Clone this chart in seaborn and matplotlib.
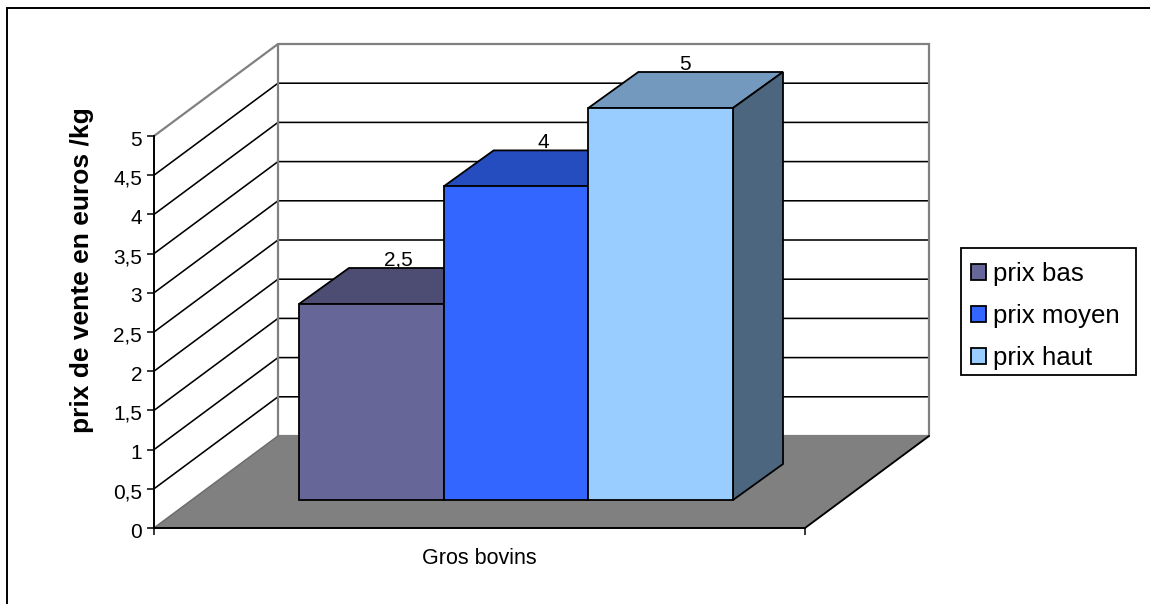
import matplotlib
matplotlib.use("Agg")
import matplotlib.pyplot as plt
from matplotlib.lines import Line2D
from matplotlib.patches import Polygon, Rectangle
from matplotlib.colors import to_rgb
from matplotlib.transforms import ScaledTranslation
import pandas as pd
import seaborn as sns

categories = ["Gros bovins"]
series_names = ["prix bas", "prix moyen", "prix haut"]
series_values = [2.5, 4, 5]
series_colors = ["#666699", "#3366FF", "#99CCFF"]
y_ticks = [0, 0.5, 1, 1.5, 2, 2.5, 3, 3.5, 4, 4.5, 5]
y_title = "prix de vente en euros /kg"

W, H = 1150, 604
sns.set_style("white")
plt.rcParams["font.family"] = ["Liberation Sans", "DejaVu Sans"]
fig = plt.figure(figsize=(W / 100, H / 100), dpi=100, facecolor="white")


def box(left, right, top, bottom):
    return [left / W, 1 - bottom / H, (right - left) / W, (bottom - top) / H]


# Front plane of the fake 3D box carries the axis scales
ax = fig.add_axes(box(154, 805, 136, 528))
ax.set_xlim(-0.5, 0.5)
ax.set_ylim(0, 5)
ax.patch.set_visible(False)

wall_dx = 124 / 651
wall_dy = 92 / 78.4
gray = "#808080"
lw = 1.15

# Floor
ax.add_patch(Polygon([(-0.5, 0), (0.5, 0), (0.5 + wall_dx, wall_dy), (-0.5 + wall_dx, wall_dy)],
                     closed=True, facecolor=gray, edgecolor="none", clip_on=False, zorder=1))
ax.plot([-0.5, -0.5 + wall_dx], [0, wall_dy], color="#6e6e6e", lw=lw, clip_on=False, zorder=1.2)
ax.plot([0.5, 0.5 + wall_dx], [0, wall_dy], color="black", lw=lw + 0.2, clip_on=False, zorder=1.2)

# Grid lines running along the side wall and the back wall
for v in y_ticks[1:-1]:
    ax.plot([-0.5, -0.5 + wall_dx, 0.5 + wall_dx], [v, v + wall_dy, v + wall_dy],
            color="black", lw=lw, clip_on=False, zorder=0.8, solid_joinstyle="miter")

# Outline of the walls
ax.plot([-0.5, -0.5 + wall_dx, 0.5 + wall_dx, 0.5 + wall_dx],
        [5, 5 + wall_dy, 5 + wall_dy, wall_dy],
        color=gray, lw=lw + 0.45, clip_on=False, zorder=0.9, solid_joinstyle="miter")
ax.plot([-0.5 + wall_dx, -0.5 + wall_dx, 0.5 + wall_dx], [5 + wall_dy, wall_dy, wall_dy],
        color=gray, lw=lw + 0.45, clip_on=False, zorder=0.9, solid_joinstyle="miter")

for s in ["top", "right"]:
    ax.spines[s].set_visible(False)
for s in ["left", "bottom"]:
    ax.spines[s].set_visible(True)
    ax.spines[s].set_color("black")
    ax.spines[s].set_linewidth(1.4)
    ax.spines[s].set_zorder(3)

ax.set_yticks(y_ticks)
ax.set_yticklabels([f"{v:g}".replace(".", ",") for v in y_ticks])
ax.tick_params(axis="y", left=True, direction="out", length=5, width=1.1, pad=3.5,
               labelsize=15, color="black", labelcolor="black")
# Value labels sit slightly below their tick marks
nudge = ScaledTranslation(0, -2 / 100, fig.dpi_scale_trans)
for label in ax.get_yticklabels():
    label.set_transform(label.get_transform() + nudge)
ax.set_xticks([0])
ax.set_xticklabels(categories)
ax.set_xticks([-0.5, 0.5], minor=True)
ax.tick_params(axis="x", which="major", bottom=False, pad=11, labelsize=15.5, labelcolor="black")
ax.tick_params(axis="x", which="minor", bottom=True, direction="out", length=5, width=1.1, color="black")
ax.set_ylabel(y_title, fontsize=19, fontweight="bold", color="black")
ax.yaxis.set_label_coords((94 - 154) / 651, (528 - 270) / 392)

# Bars sit on a plane set back from the front of the box
bar_ax = fig.add_axes(box(190.5, 841.5, 108, 500))
frame = pd.DataFrame({"categorie": categories * len(series_names),
                      "serie": series_names,
                      "valeur": series_values})
sns.barplot(data=frame, x="categorie", y="valeur", hue="serie", hue_order=series_names,
            palette=series_colors, width=2 / 3, gap=0, saturation=1, legend=True,
            edgecolor="black", linewidth=1.3, ax=bar_ax)
bar_ax.set_xlim(-0.5, 0.5)
bar_ax.set_ylim(0, 5)
handles, labels = bar_ax.get_legend_handles_labels()
bar_ax.get_legend().remove()

bar_dx = 50 / 651
bar_dy = 36 / 78.4


def shade(color, factor):
    return tuple(c * factor for c in to_rgb(color))


bars = [c[0] for c in bar_ax.containers]
label_shift = [0.54, 0.54, 0.48]
for rect, value, color, shift in zip(bars, series_values, series_colors, label_shift):
    rect.set_zorder(2)
    x0, x1 = rect.get_x(), rect.get_x() + rect.get_width()
    bar_ax.add_patch(Polygon([(x0, value), (x0 + bar_dx, value + bar_dy),
                              (x1 + bar_dx, value + bar_dy), (x1, value)],
                             closed=True, facecolor=shade(color, 0.75), edgecolor="black",
                             linewidth=1.3, clip_on=False, zorder=1, joinstyle="miter"))
    bar_ax.add_patch(Polygon([(x1, 0), (x1, value), (x1 + bar_dx, value + bar_dy), (x1 + bar_dx, bar_dy)],
                             closed=True, facecolor=shade(color, 0.5), edgecolor="black",
                             linewidth=1.3, clip_on=False, zorder=1, joinstyle="miter"))
    bar_ax.text((x0 + x1) / 2 + bar_dx * shift, value + bar_dy + 0.03,
                f"{value:g}".replace(".", ","), ha="center", va="baseline",
                fontsize=15, color="black", zorder=3, clip_on=False)
    rect.set_clip_on(False)

bar_ax.axis("off")
bar_ax.patch.set_visible(False)

# Legend: a drawn box with the entries placed inside it
fig.add_artist(Rectangle((961 / W, 1 - 374.5 / H), 175 / W, 126.5 / H, transform=fig.transFigure,
                         facecolor="white", edgecolor="black", linewidth=1.3, zorder=1))
legend_size = 18.6
leg = fig.legend(handles, labels, loc="upper left",
                 bbox_to_anchor=(961 / W, 1 - 251.5 / H), borderaxespad=0,
                 fontsize=legend_size, frameon=False,
                 handlelength=0.58, handleheight=0.58,
                 handletextpad=0.27, borderpad=0.4, labelspacing=0.7)
for t in leg.get_texts():
    t.set_color("black")

# Chart area border: only the top and left edges fall inside the image
fig.add_artist(Line2D([7 / W, 7 / W, 1], [0, 1 - 8 / H, 1 - 8 / H], color="black", lw=1.4,
                      solid_joinstyle="miter"))

fig.savefig("out.png", dpi=100, facecolor="white")
